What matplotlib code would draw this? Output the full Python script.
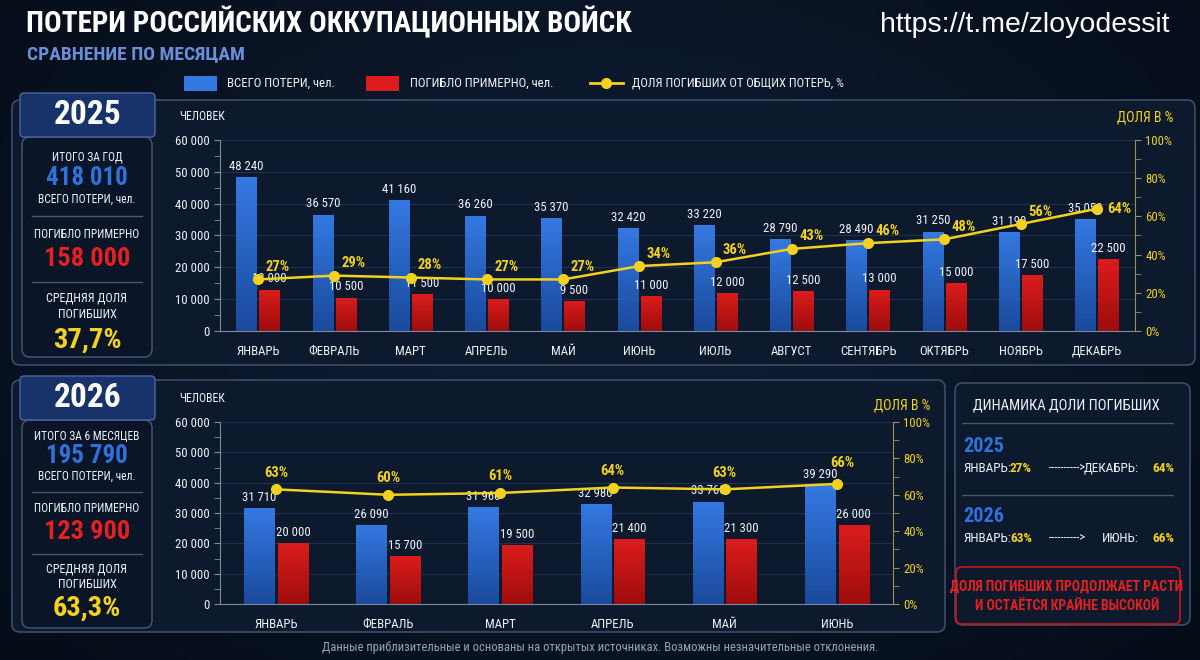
import numpy as np
import matplotlib.pyplot as plt
from matplotlib.patches import FancyBboxPatch, Rectangle
from matplotlib.colors import LinearSegmentedColormap

plt.rcParams['font.family'] = ['Roboto Condensed', 'DejaVu Sans']

# data
months_2025 = ['ЯНВАРЬ', 'ФЕВРАЛЬ', 'МАРТ', 'АПРЕЛЬ', 'МАЙ', 'ИЮНЬ',
               'ИЮЛЬ', 'АВГУСТ', 'СЕНТЯБРЬ', 'ОКТЯБРЬ', 'НОЯБРЬ', 'ДЕКАБРЬ']
total_2025 = [48240, 36570, 41160, 36260, 35370, 32420, 33220, 28790, 28490, 31250, 31190, 35050]
killed_2025 = [13000, 10500, 11500, 10000, 9500, 11000, 12000, 12500, 13000, 15000, 17500, 22500]
share_2025 = [27, 29, 28, 27, 27, 34, 36, 43, 46, 48, 56, 64]

months_2026 = ['ЯНВАРЬ', 'ФЕВРАЛЬ', 'МАРТ', 'АПРЕЛЬ', 'МАЙ', 'ИЮНЬ']
total_2026 = [31710, 26090, 31960, 32980, 33760, 39290]
killed_2026 = [20000, 15700, 19500, 21400, 21300, 26000]
share_2026 = [63, 60, 61, 64, 63, 66]

summary_2025 = ['ИТОГО ЗА ГОД', '418 010', '158 000', '37,7%']
summary_2026 = ['ИТОГО ЗА 6 МЕСЯЦЕВ', '195 790', '123 900', '63,3%']

# colours
BG = '#0a1424'
PANEL = '#0d1a2e'
EDGE = '#3e4c66'
BLUE_TOP, BLUE_BOT = '#3479e2', '#1a4a9c'
RED_TOP, RED_BOT = '#dc1c1c', '#9e0d0d'
YELLOW = '#f2d21e'
BLUE_TXT = '#2f72dc'
RED_TXT = '#e42020'
WHITE = '#eef2f8'
GRID = '#1e3152'

W, H = 1200, 660
fig = plt.figure(figsize=(12, 6.6), dpi=100, facecolor=BG)

# background canvas in pixel units
bg = fig.add_axes([0, 0, 1, 1])
bg.set_zorder(-1)
bg.set_xlim(0, W)
bg.set_ylim(H, 0)
bg.axis('off')
yy, xx = np.mgrid[0:1:120j, 0:1:200j]
glow = np.exp(-((xx - 0.5) ** 2 / 0.25 + (yy - 0.45) ** 2 / 0.35))
bg_cmap = LinearSegmentedColormap.from_list('bg', ['#060d19', '#0e1d34'])
bg.imshow(glow, extent=[0, W, H, 0], cmap=bg_cmap, aspect='auto', zorder=0)


def fmt(v):
    return f'{v:,}'.replace(',', ' ')


def box(x, y, w, h, fc, ec, lw=1.2, r=8):
    bg.add_patch(FancyBboxPatch((x, y), w, h, boxstyle=f'round,pad=0,rounding_size={r}',
                                fc=fc, ec=ec, lw=lw, zorder=1))


def px_axes(x0, y0, x1, y1):
    return fig.add_axes([x0 / W, 1 - y1 / H, (x1 - x0) / W, (y1 - y0) / H])


# title block
bg.text(26, 22, 'ПОТЕРИ РОССИЙСКИХ ОККУПАЦИОННЫХ ВОЙСК', color='white', fontsize=21,
        fontweight='bold', va='center', ha='left', zorder=3)
bg.text(27, 54, 'СРАВНЕНИЕ ПО МЕСЯЦАМ', color='#6a8fd8', fontsize=14, fontweight='bold',
        va='center', ha='left', zorder=3)
bg.text(1169, 25, 'https://t.me/zloyodessit', color='white', fontsize=20.5,
        family='Liberation Sans', va='center', ha='right', zorder=3)

# legend
bg.add_patch(Rectangle((184, 76), 33, 15, fc=BLUE_TOP, ec='none', zorder=3))
bg.text(227, 83, 'ВСЕГО ПОТЕРИ, чел.', color=WHITE, fontsize=9.2, va='center', zorder=3)
bg.add_patch(Rectangle((366, 76), 33, 15, fc=RED_TOP, ec='none', zorder=3))
bg.text(410, 83, 'ПОГИБЛО ПРИМЕРНО, чел.', color=WHITE, fontsize=9.2, va='center', zorder=3)
bg.plot([590, 623], [83, 83], color=YELLOW, lw=2, zorder=3)
bg.plot([606], [83], 'o', color=YELLOW, ms=7, zorder=4)
bg.text(632, 83, 'ДОЛЯ ПОГИБШИХ ОТ ОБЩИХ ПОТЕРЬ, %', color=WHITE, fontsize=9.1,
        va='center', zorder=3)

# panels
box(12, 100, 1183, 265, PANEL, EDGE)
box(12, 380, 933, 252, PANEL, EDGE)
box(955, 383, 235, 242, PANEL, EDGE)

# vertical offsets of the summary rows from the header top
row_offsets = [61, 82, 103, 120, 138, 163, 186, 202, 219, 244]


def stat_block(year, summary, top, bottom, k):
    box(22, top + 41, 130, bottom - top - 41, '#0a1628', '#4a5874', lw=1)
    bg.add_patch(FancyBboxPatch((20, top - 3), 135, 44, boxstyle='round,pad=0,rounding_size=4',
                                fc='#17336a', ec='#4d66a0', lw=1, zorder=2))
    bg.text(87.5, top + 19, year, color='white', fontsize=24, fontweight='bold',
            ha='center', va='center', zorder=3)
    y = [top + k * o for o in row_offsets]
    bg.text(87, y[0], summary[0], color=WHITE, fontsize=8.3, ha='center', va='center', zorder=3)
    bg.text(87, y[1], summary[1], color=BLUE_TXT, fontsize=18, fontweight='bold',
            ha='center', va='center', zorder=3)
    bg.text(87, y[2], 'ВСЕГО ПОТЕРИ, чел.', color=WHITE, fontsize=8.3, ha='center',
            va='center', zorder=3)
    bg.plot([32, 142], [y[3], y[3]], color='#4a5670', lw=1, zorder=3)
    bg.text(87, y[4], 'ПОГИБЛО ПРИМЕРНО', color=WHITE, fontsize=8.3, ha='center',
            va='center', zorder=3)
    bg.text(87, y[5], summary[2], color=RED_TXT, fontsize=19, fontweight='bold',
            ha='center', va='center', zorder=3)
    bg.plot([32, 142], [y[6], y[6]], color='#4a5670', lw=1, zorder=3)
    bg.text(87, y[7], 'СРЕДНЯЯ ДОЛЯ', color=WHITE, fontsize=8.7, ha='center',
            va='center', zorder=3)
    bg.text(87, y[8], 'ПОГИБШИХ', color=WHITE, fontsize=8.7, ha='center',
            va='center', zorder=3)
    bg.text(87, y[9], summary[3], color=YELLOW, fontsize=20.5, fontweight='bold',
            ha='center', va='center', zorder=3)


stat_block('2025', summary_2025, 96, 357, 1.0)
stat_block('2026', summary_2026, 379, 628, 0.94)


def gradient_bars(ax, bars, top, bottom):
    grad = np.linspace(0, 1, 100).reshape(-1, 1)
    cmap = LinearSegmentedColormap.from_list('g', [bottom, top])
    for b in bars:
        x, w, h = b.get_x(), b.get_width(), b.get_height()
        im = ax.imshow(grad, extent=[x, x + w, 0, h], origin='lower', cmap=cmap,
                       aspect='auto', zorder=2)
        im.set_clip_path(b)


def draw_chart(ax, months, total, killed, share, pct_offset, last_offset):
    x = np.arange(len(months))
    ax.set_facecolor('none')
    for s in ['top', 'right']:
        ax.spines[s].set_visible(False)
    ax.spines['left'].set_color('#7d8aa0')
    ax.spines['bottom'].set_color('#7d8aa0')
    b1 = ax.bar(x - 0.15, total, width=0.27, color=BLUE_TOP, zorder=2)
    b2 = ax.bar(x + 0.15, killed, width=0.27, color=RED_TOP, zorder=2)
    gradient_bars(ax, b1, BLUE_TOP, BLUE_BOT)
    gradient_bars(ax, b2, RED_TOP, RED_BOT)
    ax.bar_label(b1, labels=[fmt(v) for v in total], padding=3, color=WHITE, fontsize=9.2)
    ax.bar_label(b2, labels=[fmt(v) for v in killed], padding=3, color=WHITE, fontsize=9.2)
    ax.set_xlim(-0.5, len(months) - 0.5)
    ax.set_ylim(0, 60000)
    ax.set_yticks(range(0, 60001, 10000))
    ax.set_yticklabels([fmt(v) for v in range(0, 60001, 10000)])
    ax.set_yticks(range(5000, 60000, 10000), minor=True)
    ax.set_xticks(x)
    ax.set_xticklabels(months)
    ax.tick_params(axis='x', length=0, pad=10, colors=WHITE, labelsize=9.2)
    ax.tick_params(axis='y', which='both', colors='#7d8aa0', labelcolor=WHITE, labelsize=9.2,
                   length=4, direction='out')
    ax.grid(axis='y', color=GRID, lw=0.8, zorder=0)
    ax.set_axisbelow(True)

    axp = ax.twinx()
    axp.set_ylim(0, 100)
    for s in ['top', 'left', 'bottom']:
        axp.spines[s].set_visible(False)
    axp.spines['right'].set_color('#9b8f58')
    axp.set_yticks(range(0, 101, 20))
    axp.set_yticklabels([f'{v}%' for v in range(0, 101, 20)])
    axp.set_yticks(range(10, 100, 20), minor=True)
    axp.tick_params(axis='y', which='both', colors='#9b8f58', labelcolor=YELLOW,
                    labelsize=9.2, length=4)
    axp.plot(x, share, color=YELLOW, lw=1.8, marker='o', ms=7, zorder=5)
    for i, s in enumerate(share):
        off = last_offset if i == len(share) - 1 else pct_offset
        axp.annotate(f'{s}%', (i, s), xytext=off, textcoords='offset points',
                     color=YELLOW, fontsize=10.5, fontweight='bold', ha='center', va='center')
    return axp


ax1 = px_axes(220, 140, 1135, 331)
draw_chart(ax1, months_2025, total_2025, killed_2025, share_2025, (14, 9), (16, 0))
bg.text(179, 117, 'ЧЕЛОВЕК', color=WHITE, fontsize=8.5, va='center', zorder=3)
bg.text(1173, 117, 'ДОЛЯ В %', color=YELLOW, fontsize=10, ha='right', va='center', zorder=3)

ax2 = px_axes(220, 422, 893, 604)
draw_chart(ax2, months_2026, total_2026, killed_2026, share_2026, (0, 12), (4, 15))
bg.text(179, 399, 'ЧЕЛОВЕК', color=WHITE, fontsize=8.5, va='center', zorder=3)
bg.text(930, 405, 'ДОЛЯ В %', color=YELLOW, fontsize=10, ha='right', va='center', zorder=3)

# dynamics panel
bg.text(1066, 405, 'ДИНАМИКА ДОЛИ ПОГИБШИХ', color=WHITE, fontsize=10.5, ha='center',
        va='center', zorder=3)
for yl in (423, 495):
    bg.plot([962, 1173], [yl, yl], color='#4a5670', lw=1, zorder=3)


def dyn_row(y_year, year, first_m, first_v, last_m, last_v):
    bg.text(963, y_year, year, color=BLUE_TXT, fontsize=14.5, fontweight='bold', va='center',
            zorder=3)
    y = y_year + 21
    bg.text(963, y, f'{first_m}:', color=WHITE, fontsize=9.5, va='center', zorder=3)
    bg.text(1010, y, f'{first_v}%', color=YELLOW, fontsize=9.5, fontweight='bold',
            va='center', zorder=3)
    bg.text(1067, y, '---------->', color=WHITE, fontsize=9, ha='center', va='center', zorder=3)
    bg.text(1174, y, f'{last_v}%', color=YELLOW, fontsize=9.5, fontweight='bold',
            ha='right', va='center', zorder=3)
    bg.text(1139, y, f'{last_m}:', color=WHITE, fontsize=9.5, ha='right', va='center', zorder=3)


dyn_row(447, '2025', months_2025[0], share_2025[0], months_2025[-1], share_2025[-1])
dyn_row(517, '2026', months_2026[0], share_2026[0], months_2026[-1], share_2026[-1])

box(956, 567, 224, 57, 'none', '#c81818', lw=1.2, r=6)
bg.text(1067, 587, 'ДОЛЯ ПОГИБШИХ ПРОДОЛЖАЕТ РАСТИ', color=RED_TXT, fontsize=9.9,
        fontweight='bold', ha='center', va='center', zorder=3)
bg.text(1067, 606, 'И ОСТАЁТСЯ КРАЙНЕ ВЫСОКОЙ', color=RED_TXT, fontsize=9.9,
        fontweight='bold', ha='center', va='center', zorder=3)

bg.text(600, 647, 'Данные приблизительные и основаны на открытых источниках. '
        'Возможны незначительные отклонения.', color='#98a2b3', fontsize=9,
        ha='center', va='center', zorder=3)

fig.savefig('out.png', dpi=100, facecolor=BG)
